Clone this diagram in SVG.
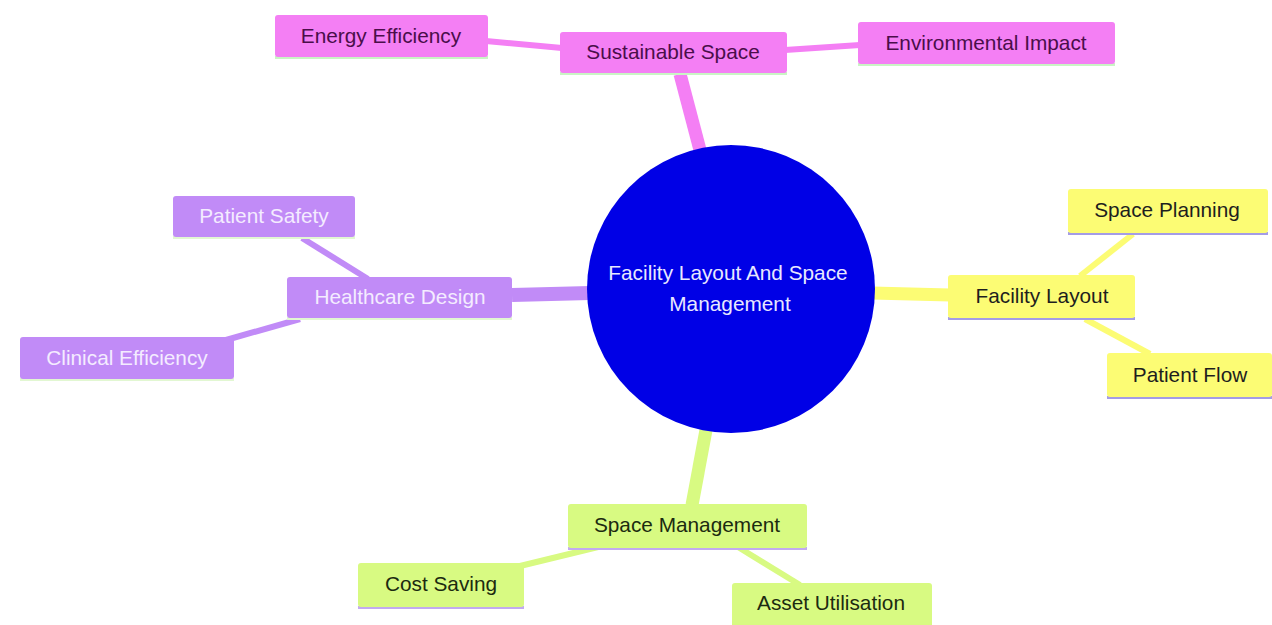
<svg xmlns="http://www.w3.org/2000/svg" width="1272" height="625" viewBox="0 0 1272 625">
<style>
text{font-family:"Liberation Sans",Arial,sans-serif;font-size:20.8px;text-anchor:middle}
.pk rect.b{fill:#f47ff4}.pk text{fill:#4a0e4a}.pk .u{fill:#c9f5c4}
.pu rect.b{fill:#c18bf7}.pu text{fill:#f4ecff}.pu .u{fill:#e2f7d2}
.ye rect.b{fill:#fcfc74}.ye text{fill:#1e1e1e}.ye .u{fill:#a49ce6}
.gr rect.b{fill:#d8fa82}.gr text{fill:#1c2a10}.gr .u{fill:#c2aaf0}
.e{stroke-linecap:butt;fill:none}
</style>
<rect width="1272" height="625" fill="#ffffff"/>
<g id="connectors">
<line class="e" x1="680" y1="74" x2="700" y2="150" stroke="#f47ff4" stroke-width="13"/>
<line class="e" x1="512" y1="295" x2="590" y2="293" stroke="#c18bf7" stroke-width="14"/>
<line class="e" x1="872" y1="293" x2="950" y2="295" stroke="#fcfc74" stroke-width="13"/>
<line class="e" x1="706" y1="430" x2="692" y2="505" stroke="#d8fa82" stroke-width="13"/>
<line class="e" x1="486" y1="41" x2="562" y2="48" stroke="#f47ff4" stroke-width="6"/>
<line class="e" x1="785" y1="50" x2="860" y2="45" stroke="#f47ff4" stroke-width="6"/>
<line class="e" x1="302" y1="238" x2="368" y2="279" stroke="#c18bf7" stroke-width="6"/>
<line class="e" x1="226" y1="340" x2="300" y2="319" stroke="#c18bf7" stroke-width="6"/>
<line class="e" x1="1133" y1="234" x2="1080" y2="276" stroke="#fcfc74" stroke-width="6"/>
<line class="e" x1="1085" y1="319" x2="1150" y2="354" stroke="#fcfc74" stroke-width="6"/>
<line class="e" x1="520" y1="566" x2="598" y2="547" stroke="#d8fa82" stroke-width="6"/>
<line class="e" x1="738" y1="547" x2="800" y2="585" stroke="#d8fa82" stroke-width="6"/>
</g>
<g id="root">
<circle cx="731" cy="289" r="144" fill="#0000e6"/>
<text x="728" y="280" style="fill:#e8e8ff;font-size:20.8px">Facility Layout And Space</text>
<text x="730" y="311" style="fill:#e8e8ff;font-size:20.8px">Management</text>
</g>
<g id="sustainable-space" class="pk">
<rect class="u" x="560" y="72" width="227" height="3"/>
<rect class="b" x="560" y="32" width="227" height="41" rx="3"/>
<text x="673" y="59">Sustainable Space</text>
</g>
<g id="energy-efficiency" class="pk">
<rect class="u" x="275" y="56" width="213" height="3"/>
<rect class="b" x="275" y="15" width="213" height="42" rx="3"/>
<text x="381" y="43">Energy Efficiency</text>
</g>
<g id="environmental-impact" class="pk">
<rect class="u" x="858" y="63" width="257" height="3"/>
<rect class="b" x="858" y="22" width="257" height="42" rx="3"/>
<text x="986" y="50">Environmental Impact</text>
</g>
<g id="healthcare-design" class="pu">
<rect class="u" x="287" y="317" width="225" height="3"/>
<rect class="b" x="287" y="277" width="225" height="41" rx="3"/>
<text x="400" y="304">Healthcare Design</text>
</g>
<g id="patient-safety" class="pu">
<rect class="u" x="173" y="236" width="182" height="3"/>
<rect class="b" x="173" y="196" width="182" height="41" rx="3"/>
<text x="264" y="223">Patient Safety</text>
</g>
<g id="clinical-efficiency" class="pu">
<rect class="u" x="20" y="378" width="214" height="3"/>
<rect class="b" x="20" y="337" width="214" height="42" rx="3"/>
<text x="127" y="365">Clinical Efficiency</text>
</g>
<g id="facility-layout" class="ye">
<rect class="u" x="948" y="317" width="187" height="3"/>
<rect class="b" x="948" y="275" width="187" height="43" rx="3"/>
<text x="1042" y="303">Facility Layout</text>
</g>
<g id="space-planning" class="ye">
<rect class="u" x="1068" y="232" width="200" height="3"/>
<rect class="b" x="1068" y="189" width="200" height="44" rx="3"/>
<text x="1167" y="217">Space Planning</text>
</g>
<g id="patient-flow" class="ye">
<rect class="u" x="1107" y="396" width="165" height="3"/>
<rect class="b" x="1107" y="353" width="165" height="44" rx="3"/>
<text x="1190" y="382">Patient Flow</text>
</g>
<g id="space-management" class="gr">
<rect class="u" x="568" y="547" width="239" height="3"/>
<rect class="b" x="568" y="504" width="239" height="44" rx="3"/>
<text x="687" y="532">Space Management</text>
</g>
<g id="cost-saving" class="gr">
<rect class="u" x="358" y="606" width="166" height="3"/>
<rect class="b" x="358" y="563" width="166" height="44" rx="3"/>
<text x="441" y="591">Cost Saving</text>
</g>
<g id="asset-utilisation" class="gr">
<rect class="b" x="732" y="583" width="200" height="44" rx="3"/>
<text x="831" y="610">Asset Utilisation</text>
</g>
</svg>
